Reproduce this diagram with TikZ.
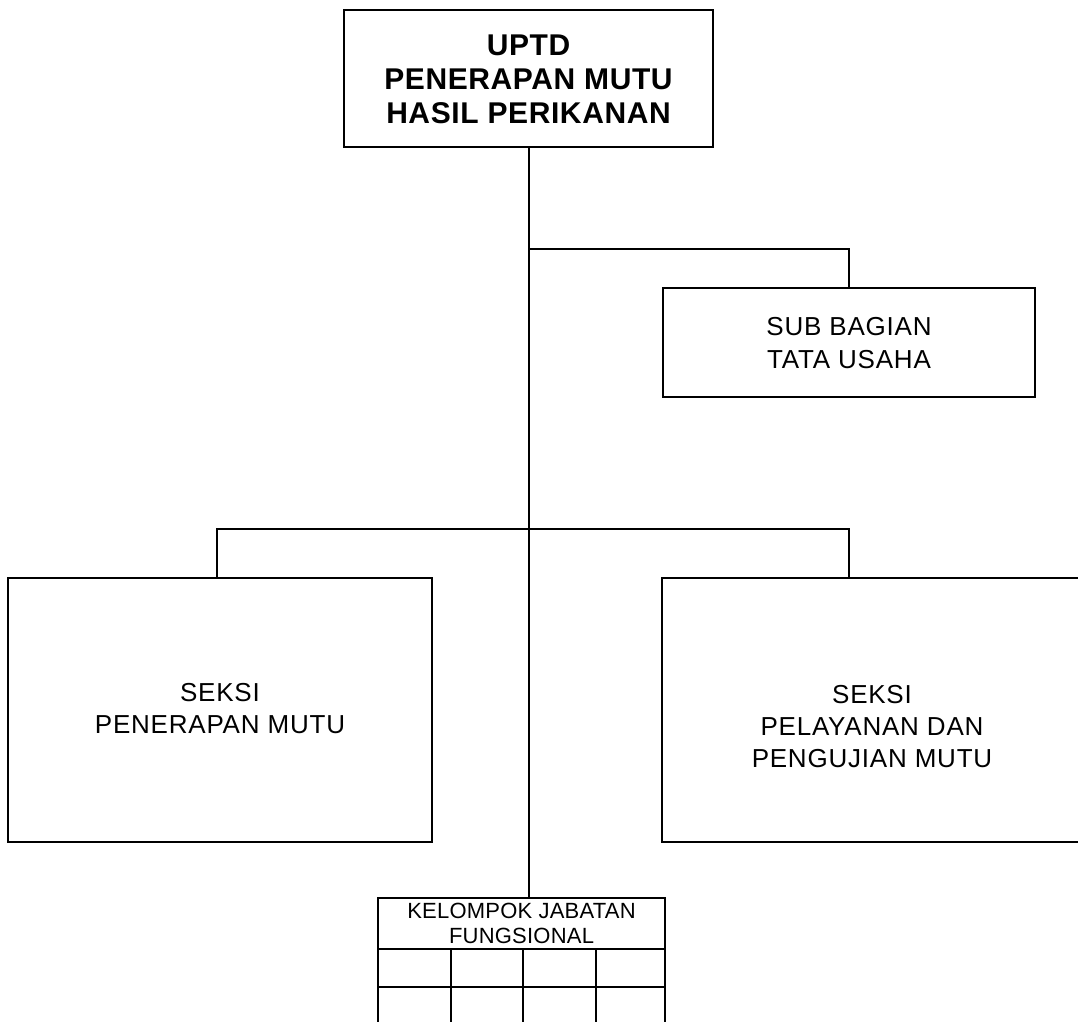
\documentclass[tikz,border=0pt]{standalone}
\usepackage{fontspec}
\setmainfont{Liberation Sans}
\newfontfamily\titlefont[LetterSpace=2]{Liberation Sans}
\newfontfamily\boxfont[LetterSpace=3]{Liberation Sans}
\newfontfamily\tabfont[LetterSpace=1]{Liberation Sans}
\begin{document}
\begin{tikzpicture}[x=1pt,y=-1pt,
  box/.style={draw,rectangle,line width=2pt,inner sep=0pt,outer sep=0pt},
  conn/.style={line width=2pt},
  tabline/.style={line width=2pt},
  titletext/.style={anchor=base,inner sep=0pt,font=\titlefont\bfseries\fontsize{30}{34}\selectfont},
  bodytext/.style={anchor=base,inner sep=0pt,font=\boxfont\fontsize{26}{33}\selectfont},
  tabtext/.style={anchor=base,inner sep=0pt,font=\tabfont\fontsize{22}{25}\selectfont}]
\useasboundingbox (0,0) rectangle (1078,1021);
\clip (0,0) rectangle (1078,1021);
\fill[white] (0,0) rectangle (1078,1021);

% boxes
\node[box,minimum width=369pt,minimum height=137pt] (top) at (528.5,78.5) {};
\node[box,minimum width=372pt,minimum height=109pt] (sub) at (849,342.5) {};
\node[box,minimum width=424pt,minimum height=264pt] (left) at (220,710) {};
\node[box,minimum width=420pt,minimum height=264pt] (right) at (872,710) {};
\node[box,minimum width=287pt,minimum height=51pt] (kjf) at (521.5,923.5) {};

% texts
\node[titletext] (t1) at (528.5,55) {UPTD};
\node[titletext] (t2) at (528.5,89) {PENERAPAN MUTU};
\node[titletext] (t3) at (528.5,123) {HASIL PERIKANAN};

\node[bodytext] (s1) at (849,335) {SUB BAGIAN};
\node[bodytext] (s2) at (849,368) {TATA USAHA};

\node[bodytext] (l1) at (220,701) {SEKSI};
\node[bodytext] (l2) at (220,733) {PENERAPAN MUTU};

\node[bodytext] (r1) at (872,703) {SEKSI};
\node[bodytext] (r2) at (872,735) {PELAYANAN DAN};
\node[bodytext] (r3) at (872,767) {PENGUJIAN MUTU};

\node[tabtext] (k1) at (521.5,918) {KELOMPOK JABATAN};
\node[tabtext] (k2) at (521.5,943) {FUNGSIONAL};

% connectors
\coordinate (j1) at (528.5,249);
\coordinate (cL) at (217,529);
\coordinate (cR) at (849,529);
\draw[conn] (top.south) -- (top.south |- kjf.north);
\draw[conn] (j1) -| (sub.north);
\draw[conn] (cL |- left.north) -- (cL) -- (cR) -- (cR |- right.north);

% table grid
\coordinate (g1) at (378,987);
\coordinate (g2) at (665,987);
\coordinate (gb) at (378,1035);
\draw[tabline] (kjf.south west) -- (gb) -- (gb -| kjf.south east) -- (kjf.south east);
\draw[tabline] (g1) -- (g2);
\foreach \xx in {451,523,596}{
  \draw[tabline] (\xx,949) -- (\xx,1035);
}
\end{tikzpicture}
\end{document}
